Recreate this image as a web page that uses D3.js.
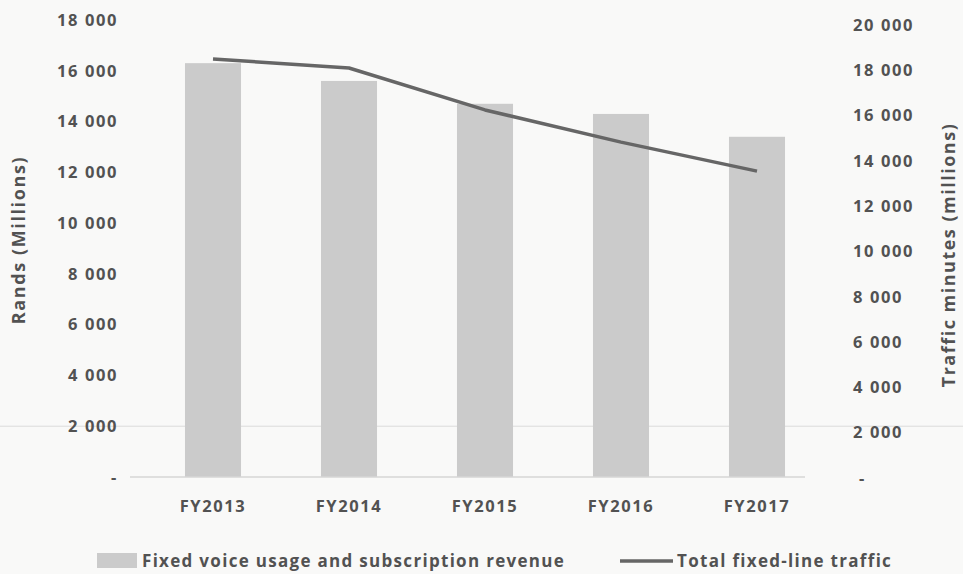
<!DOCTYPE html>
<html>
<head>
<meta charset="utf-8">
<script src="https://cdn.jsdelivr.net/npm/d3@7"></script>
<style>
  body { margin: 0; background: #f9f9f8; }
  text { font-family: "Open Sans", "Noto Sans", sans-serif; fill: #525252; font-weight: 700; }
</style>
</head>
<body>
<div id="chart"></div>
<script>
const years = ["FY2013", "FY2014", "FY2015", "FY2016", "FY2017"];
const revenue = [16300, 15600, 14700, 14300, 13400];
const traffic = [18500, 18100, 16250, 14830, 13550];
const leftTicks = [0, 2000, 4000, 6000, 8000, 10000, 12000, 14000, 16000, 18000];
const rightTicks = [0, 2000, 4000, 6000, 8000, 10000, 12000, 14000, 16000, 18000, 20000];

const width = 963, height = 574;

const fmt = function (d) {
  return d === 0 ? "-" : d3.format(",")(d).replace(",", " ");
};

const x = d3.scaleBand()
  .domain(years)
  .range([145, 825])
  .paddingInner(0.588)
  .paddingOuter(0.294);

const yLeft = d3.scaleLinear()
  .domain([0, 18000])
  .range([477, 20]);

const yRight = d3.scaleLinear()
  .domain([0, 20000])
  .range([478, 25]);

const svg = d3.select("#chart")
  .append("svg")
  .attr("width", width)
  .attr("height", height);

// faint rule across the page at the 2 000 level
svg.append("line")
  .attr("x1", 0).attr("x2", width)
  .attr("y1", yLeft(2000)).attr("y2", yLeft(2000))
  .attr("stroke", "#dcdcdc").attr("stroke-width", 1);

svg.selectAll("rect.bar")
  .data(revenue)
  .enter().append("rect")
    .attr("class", "bar")
    .attr("x", function (d, i) { return x(years[i]); })
    .attr("width", x.bandwidth())
    .attr("y", function (d) { return yLeft(d); })
    .attr("height", function (d) { return yLeft(0) - yLeft(d); })
    .attr("fill", "#cbcbcb");

// baseline
svg.append("line")
  .attr("x1", 130).attr("x2", 805)
  .attr("y1", yLeft(0)).attr("y2", yLeft(0))
  .attr("stroke", "#d6d6d6").attr("stroke-width", 1.5);

const line = d3.line()
  .x(function (d, i) { return x(years[i]) + x.bandwidth() / 2; })
  .y(function (d) { return yRight(d); });

svg.append("path")
  .datum(traffic)
  .attr("d", line)
  .attr("fill", "none")
  .attr("stroke", "#666")
  .attr("stroke-width", 3.5)
  .attr("stroke-linejoin", "round");

function styleTicks(g) {
  g.select(".domain").remove();
  g.selectAll("text")
    .attr("font-family", null)
    .attr("fill", null)
    .style("font-size", "16.5px")
    .style("letter-spacing", "1.6px");
}

const leftAxis = d3.axisLeft(yLeft).tickValues(leftTicks).tickFormat(fmt).tickSize(0).tickPadding(0);
svg.append("g").attr("transform", "translate(118,0)").call(leftAxis).call(styleTicks);

const rightAxis = d3.axisRight(yRight).tickValues(rightTicks).tickFormat(fmt).tickSize(0).tickPadding(0);
svg.append("g").attr("transform", "translate(853,0)").call(rightAxis).call(styleTicks)
  .selectAll("text").attr("dx", function (d) { return d === 0 ? 6 : 0; });

const xAxis = d3.axisBottom(x).tickSize(0).tickPadding(0);
svg.append("g").attr("transform", "translate(0,500)").call(xAxis).call(styleTicks);

svg.append("text")
  .attr("transform", "translate(25,240) rotate(-90)")
  .attr("text-anchor", "middle")
  .style("font-size", "18px").style("letter-spacing", "1.6px")
  .text("Rands (Millions)");

svg.append("text")
  .attr("transform", "translate(955,255) rotate(-90)")
  .attr("text-anchor", "middle")
  .style("font-size", "18px").style("letter-spacing", "1.5px")
  .text("Traffic minutes (millions)");

// legend
svg.append("rect")
  .attr("x", 97).attr("y", 553).attr("width", 40).attr("height", 15)
  .attr("fill", "#cbcbcb");
svg.append("text")
  .attr("x", 142).attr("y", 567)
  .style("font-size", "17px").style("letter-spacing", "1.3px")
  .text("Fixed voice usage and subscription revenue");

svg.append("line")
  .attr("x1", 620).attr("x2", 673).attr("y1", 561).attr("y2", 561)
  .attr("stroke", "#666").attr("stroke-width", 3.5);
svg.append("text")
  .attr("x", 677).attr("y", 567)
  .style("font-size", "17px").style("letter-spacing", "1.3px")
  .text("Total fixed-line traffic");
</script>
</body>
</html>
